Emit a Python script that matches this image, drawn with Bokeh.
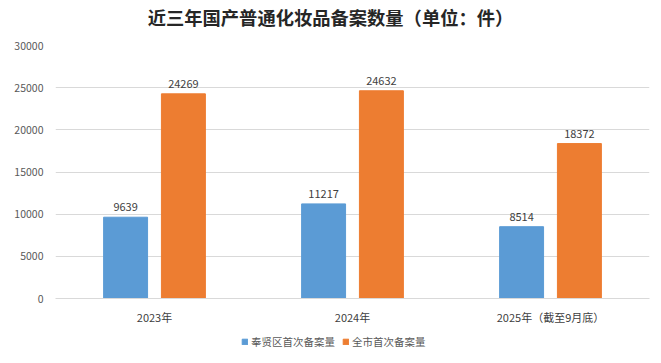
from bokeh.plotting import figure
from bokeh.layouts import column
from bokeh.models import ColumnDataSource, FactorRange, Legend, LegendItem, LabelSet, Label, SingleIntervalTicker, NumeralTickFormatter
from bokeh.transform import dodge
from bokeh.embed import file_html
from bokeh.resources import INLINE
from bokeh.core.properties import value

categories = ["2023年", "2024年", "2025年（截至9月底）"]
fengxian = [9639, 11217, 8514]
city = [24269, 24632, 18372]
series_names = ["奉贤区首次备案量", "全市首次备案量"]
title_text = "近三年国产普通化妆品备案数量（单位：件）"

FONT = "Noto Sans CJK SC"
BLUE = "#5B9BD5"
ORANGE = "#ED7D31"

src = ColumnDataSource(dict(cat=categories, a=fengxian, b=city,
                            a_lbl=[str(v) for v in fengxian],
                            b_lbl=[str(v) for v in city]))

# title strip (its frame is aligned with the chart frame, which starts 55px in)
tf = figure(width=661, height=34, x_range=(0, 1), y_range=(0, 1), output_backend="svg",
            toolbar_location=None, x_axis_location=None, y_axis_location=None, min_border=0)
tf.grid.grid_line_color = None
tf.outline_line_color = None
tf.add_layout(Label(x=275, y=17.5, x_units="screen", y_units="screen", text=title_text,
                    text_align="center", text_baseline="middle", text_font=FONT,
                    text_font_size="18.3px", text_font_style="bold", text_color="#262626"))

p = figure(width=661, height=294, x_range=FactorRange(*categories, range_padding=0),
           y_range=(0, 30000), output_backend="svg", toolbar_location=None,
           min_border_left=55, min_border_right=12, min_border_top=11, min_border_bottom=30)
p.x_range.factor_padding = 0

off = 0.146
w = 0.222
ra = p.vbar(x=dodge("cat", -off, range=p.x_range), top="a", width=w, source=src, color=BLUE)
rb = p.vbar(x=dodge("cat", off, range=p.x_range), top="b", width=w, source=src, color=ORANGE)

for col, lbl, o in (("a", "a_lbl", -off), ("b", "b_lbl", off)):
    ls = LabelSet(x=dodge("cat", o, range=p.x_range), y=col, text=lbl, source=src,
                  text_align="center", text_baseline="bottom", y_offset=6,
                  text_font=value(FONT), text_font_size="11px", text_color="#404040")
    p.add_layout(ls)

p.yaxis.ticker = SingleIntervalTicker(interval=5000)
p.yaxis.formatter = NumeralTickFormatter(format="0")
p.yaxis.axis_line_color = None
p.yaxis.major_tick_line_color = None
p.yaxis.minor_tick_line_color = None
p.yaxis.major_label_text_font = FONT
p.yaxis.major_label_text_font_size = "10.5px"
p.yaxis.major_label_text_color = "#595959"
p.yaxis.major_label_standoff = 6

p.xaxis.axis_line_color = "#D9D9D9"
p.xaxis.major_tick_line_color = None
p.xaxis.minor_tick_line_color = None
p.xaxis.major_label_text_font = FONT
p.xaxis.major_label_text_font_size = "11px"
p.xaxis.major_label_text_color = "#404040"
p.xaxis.major_label_standoff = 4

p.xgrid.grid_line_color = None
p.ygrid.grid_line_color = "#D9D9D9"
p.outline_line_color = None

# legend strip below the chart (swatch renderers sit outside the visible range)
lg = figure(width=661, height=24, x_range=(0, 1), y_range=(0, 1), output_backend="svg",
            toolbar_location=None, x_axis_location=None, y_axis_location=None,
            min_border=0)
lg.grid.grid_line_color = None
lg.outline_line_color = None
swatch = ColumnDataSource(dict(x=[-5], top=[-5]))
la = lg.vbar(x="x", top="top", width=0.1, source=swatch, color=BLUE)
lb = lg.vbar(x="x", top="top", width=0.1, source=swatch, color=ORANGE)
legend = Legend(items=[LegendItem(label=series_names[0], renderers=[la]),
                       LegendItem(label=series_names[1], renderers=[lb])],
                orientation="horizontal", location=(186, 3),
                glyph_width=7, glyph_height=7, label_height=14, label_text_font=FONT,
                label_text_font_size="10.5px", label_text_color="#595959",
                border_line_color=None, background_fill_alpha=0,
                spacing=7, label_standoff=3, padding=2, margin=0)
lg.add_layout(legend, "center")

layout = column(tf, p, lg, spacing=0)
open("out.html", "w").write(file_html(layout, INLINE))
